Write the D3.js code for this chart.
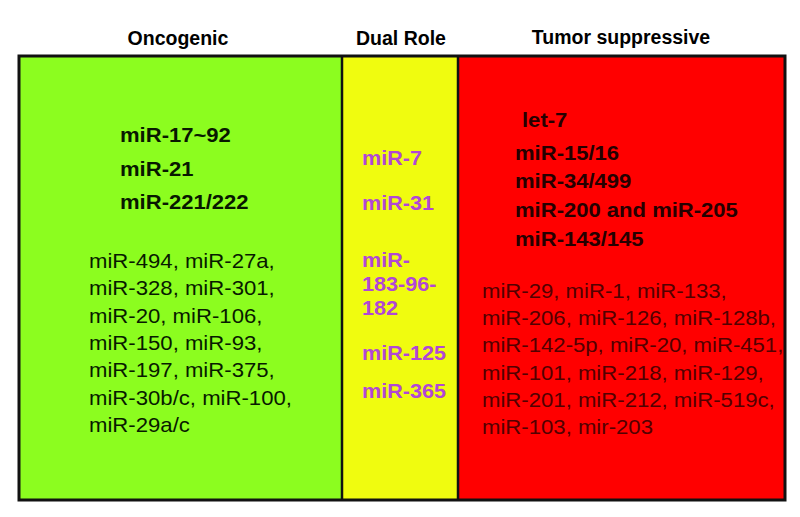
<!DOCTYPE html>
<html><head><meta charset="utf-8">
<script src="https://cdn.jsdelivr.net/npm/d3@7"></script>
<style>html,body{margin:0;padding:0;background:#fff;}svg{display:block;font-family:"Liberation Sans",Arial,Helvetica,sans-serif;}</style>
</head><body><svg id="c" width="800" height="517"></svg>
<script>
const categories = ["Oncogenic", "Dual Role", "Tumor suppressive"];
const categoryColors = ["#8cfd1f", "#f0fc0f", "#ff0000"];
const oncogenicMajor = ["miR-17~92", "miR-21", "miR-221/222"];
const oncogenicOther = ["miR-494, miR-27a,", "miR-328, miR-301,", "miR-20, miR-106,", "miR-150, miR-93,", "miR-197, miR-375,", "miR-30b/c, miR-100,", "miR-29a/c"];
const dualRole = [["miR-7"], ["miR-31"], ["miR-", "183-96-", "182"], ["miR-125"], ["miR-365"]];
const suppressorMajor = ["let-7", "miR-15/16", "miR-34/499", "miR-200 and miR-205", "miR-143/145"];
const suppressorOther = ["miR-29, miR-1, miR-133,", "miR-206, miR-126, miR-128b,", "miR-142-5p, miR-20, miR-451,", "miR-101, miR-218, miR-129,", "miR-201, miR-212, miR-519c,", "miR-103, mir-203"];

const svg = d3.select("#c");
// column boundaries
const edges = [19, 342, 458, 785];
const boxTop = 56, boxBottom = 500;
const x = d3.scaleOrdinal().domain(categories).range(edges.slice(0, 3));
const xr = d3.scaleOrdinal().domain(categories).range(edges.slice(1));
const color = d3.scaleOrdinal().domain(categories).range(categoryColors);

svg.selectAll("rect.col").data(categories).join("rect").attr("class", "col")
  .attr("x", d => x(d)).attr("y", boxTop).attr("width", d => xr(d) - x(d)).attr("height", boxBottom - boxTop)
  .attr("fill", d => color(d));
svg.selectAll("line.div").data(categories.slice(1)).join("line").attr("class", "div")
  .attr("x1", d => x(d)).attr("x2", d => x(d)).attr("y1", boxTop).attr("y2", boxBottom)
  .attr("stroke", "#111").attr("stroke-width", 2.5);
svg.append("rect").attr("x", edges[0]).attr("y", boxTop).attr("width", edges[3] - edges[0]).attr("height", boxBottom - boxTop)
  .attr("fill", "none").attr("stroke", "#111").attr("stroke-width", 3);

// headers
const headerCenter = {"Oncogenic": 178, "Dual Role": 401, "Tumor suppressive": 621};
svg.selectAll("text.hdr").data(categories).join("text").attr("class", "hdr")
  .attr("x", d => headerCenter[d]).attr("y", (d, i) => i === 2 ? 44 : 45)
  .attr("text-anchor", "middle").attr("font-size", 19.5).attr("font-weight", "bold").attr("fill", "#000")
  .text(d => d);

function stretched(g, xx, yy, sx, txt, opts) {
  return g.append("text").attr("transform", `translate(${xx},${yy}) scale(${sx},1)`)
    .attr("font-size", opts.size).attr("font-weight", opts.weight).attr("fill", opts.fill).text(txt);
}

// Oncogenic
const gO = svg.append("g");
const oMajY = d3.scaleLinear().domain([0, 1]).range([142, 175.5]);
oncogenicMajor.forEach((d, i) => stretched(gO, 120, oMajY(i), 1.05, d, {size: 21, weight: "bold", fill: "#081800"}));
const oOthY = d3.scaleLinear().domain([0, 1]).range([268, 295.3]);
oncogenicOther.forEach((d, i) => stretched(gO, 89, oOthY(i), 1.08, d, {size: 20.5, weight: "normal", fill: "#081a00"}));

// Dual role
const gD = svg.append("g");
const dualY = [165, 210, 267, 360, 398];
dualRole.forEach((lines, i) => lines.forEach((l, j) =>
  stretched(gD, 362, dualY[i] + j * 24, 1.03, l, {size: 21, weight: "bold", fill: "#b147d6"})));

// Tumor suppressive
const gT = svg.append("g");
const tMajY = [127, 160, 188, 217, 246];
suppressorMajor.forEach((d, i) => stretched(gT, i === 0 ? 522 : 515, tMajY[i], 1.05, d, {size: 21, weight: "bold", fill: "#250000"}));
const tOthY = d3.scaleLinear().domain([0, 1]).range([298, 325.2]);
suppressorOther.forEach((d, i) => stretched(gT, 482, tOthY(i), 1.08, d, {size: 20.5, weight: "normal", fill: "#520000"}));
</script></body></html>
